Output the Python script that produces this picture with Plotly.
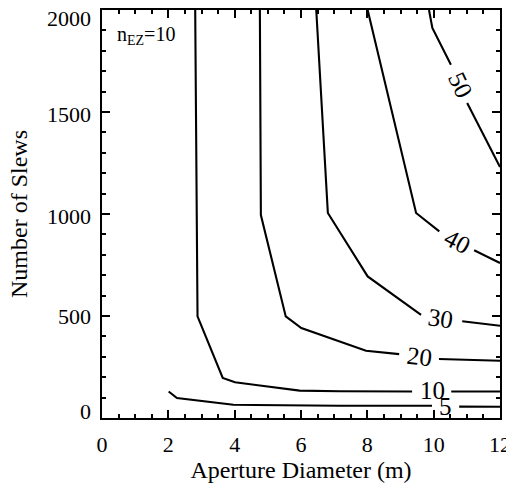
import plotly.graph_objects as go

# ---- data ----
x_ticks = [0, 2, 4, 6, 8, 10, 12]
y_ticks = [0, 500, 1000, 1500, 2000]
y_tick_labels = ["0", "500", "1000", "1500", "2000"]
y_label_nudge = [7, 0, -2, -2, -8]   # px, end labels kept inside frame

# contour paths (None = gap where the level label sits)
c5_x = [2.01, 2.26, 3.96, 7.16, 9.95, None, 10.77, 12]
c5_y = [130, 98, 65, 60, 60, None, 56, 55]

c10_x = [2.81, 2.88, 3.64, 4.01, 5.96, 7.16, 9.35, None, 10.53, 12]
c10_y = [2000, 498, 196, 175, 134, 131, 130, None, 130, 130]

c20_x = [4.76, 4.79, 5.54, 6.01, 7.96, 8.96, None, 10.16, 12]
c20_y = [2000, 995, 498, 441, 330, 313, None, 289, 281]

c30_x = [6.46, 6.81, 8.01, 9.62, None, 10.86, 12]
c30_y = [2000, 1005, 694, 506, None, 474, 452]

c40_x = [8.01, 9.36, 9.47, 10.17, None, 11.22, 12]
c40_y = [2000, 1070, 1005, 915, None, 822, 760]

c50_x = [9.86, 9.96, 10.52, None, 11.01, 12]
c50_y = [2000, 1912, 1732, None, 1544, 1230]

levels = [5, 10, 20, 30, 40, 50]
label_x = [10.37, 9.97, 9.56, 10.22, 10.71, 10.8]
label_y = [57, 133, 302, 490, 866, 1634]
label_angle = [0, 0, 7, 8, 28, 65]

FONT = "Liberation Serif"

fig = go.Figure()
for cx, cy in [(c5_x, c5_y), (c10_x, c10_y), (c20_x, c20_y),
               (c30_x, c30_y), (c40_x, c40_y), (c50_x, c50_y)]:
    fig.add_trace(go.Scatter(x=cx, y=cy, mode="lines",
                             line=dict(color="black", width=2.1),
                             connectgaps=False, showlegend=False,
                             hoverinfo="skip"))

for lv, lx, ly, ang in zip(levels, label_x, label_y, label_angle):
    fig.add_annotation(x=lx, y=ly, text=str(lv), showarrow=False,
                       textangle=ang, xanchor="center", yanchor="middle",
                       font=dict(family=FONT, size=25, color="black"))

# y tick labels (IDL style: end labels held inside the frame)
for yv, yt, nud in zip(y_ticks, y_tick_labels, y_label_nudge):
    fig.add_annotation(xref="paper", yref="y", x=0, y=yv, text=yt,
                       showarrow=False, xanchor="right", yanchor="middle",
                       xshift=-9, yshift=nud,
                       font=dict(family=FONT, size=22, color="black"))

# y axis title
fig.add_annotation(xref="paper", yref="paper", x=0, y=0.5,
                   text="Number of Slews", textangle=-90, showarrow=False,
                   xanchor="center", yanchor="middle", xshift=-83,
                   font=dict(family=FONT, size=24, color="black"))

fig.add_annotation(xref="paper", yref="paper", x=0, y=1, xanchor="left",
                   yanchor="top", xshift=13, yshift=-11,
                   text="n<sub>EZ</sub>=10", showarrow=False,
                   font=dict(family=FONT, size=20, color="black"))

axis_common = dict(
    showline=True, linecolor="black", linewidth=2, mirror="allticks",
    ticks="inside", ticklen=8, tickwidth=1.5, tickcolor="black",
    showgrid=False, zeroline=False, automargin=False,
    tickfont=dict(family=FONT, size=22, color="black"),
)

fig.update_xaxes(range=[0, 12], tickvals=x_ticks,
                 minor=dict(dtick=0.5, ticks="inside", ticklen=4,
                            tickwidth=1.5, tickcolor="black", showgrid=False),
                 title=dict(text="Aperture Diameter (m)", standoff=1,
                            font=dict(family=FONT, size=24, color="black")),
                 ticklabelstandoff=6,
                 **axis_common)
fig.update_yaxes(range=[0, 2000], tickvals=y_ticks, showticklabels=False,
                 minor=dict(dtick=100, ticks="inside", ticklen=4,
                            tickwidth=1.5, tickcolor="black", showgrid=False),
                 **axis_common)

fig.update_layout(width=506, height=476, autosize=False,
                  margin=dict(l=94, r=14, t=2, b=66),
                  paper_bgcolor="white", plot_bgcolor="white",
                  font=dict(family=FONT, color="black"))

fig.write_html("out.html")
